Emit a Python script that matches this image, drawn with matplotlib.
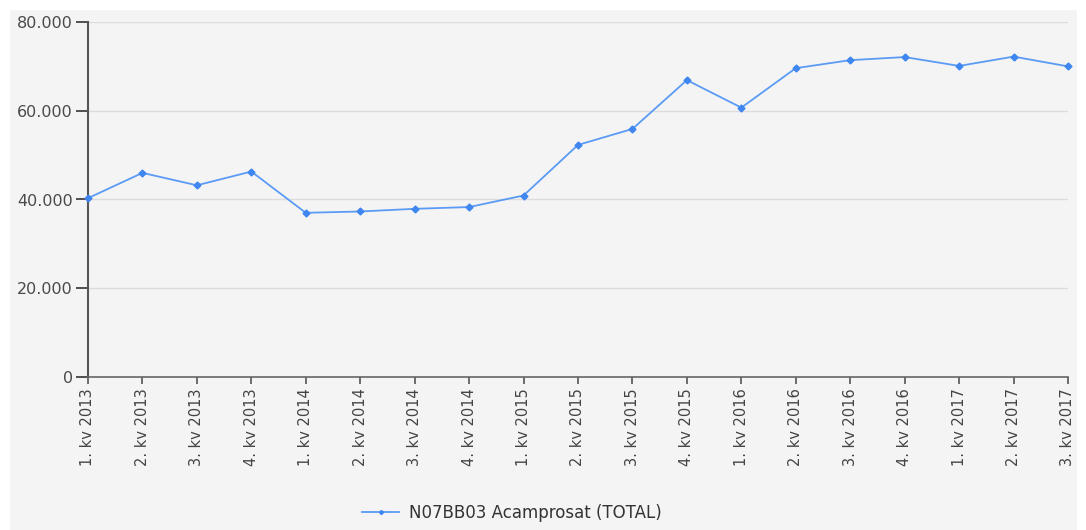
import matplotlib
matplotlib.use("Agg")
import matplotlib.pyplot as plt
from matplotlib.patches import Rectangle
from matplotlib.ticker import FuncFormatter

categories = ["1. kv 2013", "2. kv 2013", "3. kv 2013", "4. kv 2013",
              "1. kv 2014", "2. kv 2014", "3. kv 2014", "4. kv 2014",
              "1. kv 2015", "2. kv 2015", "3. kv 2015", "4. kv 2015",
              "1. kv 2016", "2. kv 2016", "3. kv 2016", "4. kv 2016",
              "1. kv 2017", "2. kv 2017", "3. kv 2017"]
values = [40300, 46000, 43200, 46300,
          37000, 37300, 37900, 38300,
          40900, 52300, 55900, 66900,
          60700, 69600, 71400, 72100,
          70100, 72200, 70000]
series_name = "N07BB03 Acamprosat (TOTAL)"
yticks = [0, 20000, 40000, 60000, 80000]

W, H = 1086, 530
fig = plt.figure(figsize=(W / 100, H / 100), dpi=100)
fig.patch.set_facecolor("white")
bg = "#f4f4f4"
fig.patches.append(Rectangle((10 / W, 0), (1077 - 10) / W, (H - 10) / H,
                             transform=fig.transFigure, facecolor=bg,
                             edgecolor="none", zorder=-10))

ax = fig.add_axes([88 / W, (H - 377) / H, (1068 - 88) / W, 355 / H])
ax.set_facecolor(bg)
x = list(range(len(categories)))
line, = ax.plot(x, values, color="#5b9bf5", lw=1.3, marker="D", ms=3.5,
                mec="#3f86f0", mfc="#3f86f0", zorder=3, clip_on=False)
ax.set_xlim(0, len(categories) - 1)
ax.set_ylim(0, 80000)
ax.set_yticks(yticks)
ax.yaxis.set_major_formatter(FuncFormatter(lambda v, p: f"{int(v):,}".replace(",", ".")))
ax.set_xticks(x)
ax.set_xticklabels(categories, rotation=90, fontsize=10.5, color="#444444",
                   fontfamily="DejaVu Sans")
for lab in ax.get_yticklabels():
    lab.set_fontsize(11.5)
    lab.set_color("#4a4a4a")
ax.grid(axis="y", color="#dcdcdc", lw=1)
ax.set_axisbelow(True)
for s in ["top", "right"]:
    ax.spines[s].set_visible(False)
ax.spines["left"].set_color("#555555")
ax.spines["left"].set_linewidth(1.5)
ax.spines["bottom"].set_color("#666666")
ax.spines["bottom"].set_linewidth(1.2)
ax.tick_params(axis="y", length=9, width=1.2, color="#333333", pad=2)
ax.tick_params(axis="x", length=5, width=1.2, color="#555555", pad=3)

fig.legend([line], [series_name], loc="center", bbox_to_anchor=(512 / W, (H - 513) / H),
           frameon=False, fontsize=12, handlelength=2.2, markerscale=0.6,
           handletextpad=0.6, labelcolor="#333333")

fig.savefig("out.png", dpi=100)
